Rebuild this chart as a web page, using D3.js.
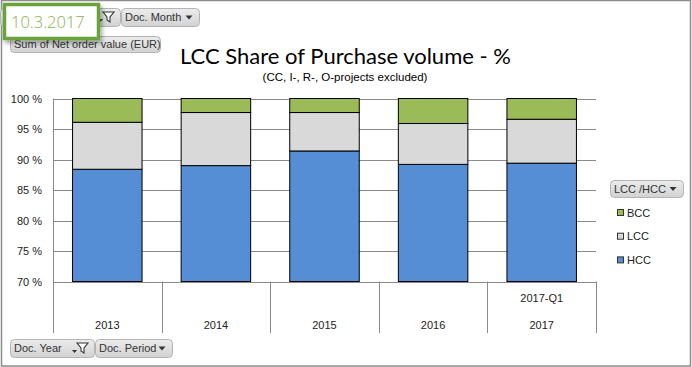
<!DOCTYPE html>
<html><head><meta charset="utf-8">
<script src="https://cdn.jsdelivr.net/npm/d3@7/dist/d3.min.js"></script>
<style>html,body{margin:0;padding:0;background:#fff;}svg{display:block;}</style>
</head><body>
<svg id="c" width="692" height="367"></svg>
<script>
const years = ["2013","2014","2015","2016","2017"];
const subLabels = ["","","","","2017-Q1"];
const seriesNames = ["HCC","LCC","BCC"];
const hcc = [88.4, 89.0, 91.4, 89.2, 89.4];
const lcc = [7.7, 8.7, 6.3, 6.7, 7.2];
const bcc = [3.9, 2.3, 2.3, 4.1, 3.4];
const colors = {HCC:"#558ed5", LCC:"#d9d9d9", BCC:"#9bbb59"};
const yTicks = [70,75,80,85,90,95,100];
const legendOrder = ["BCC","LCC","HCC"];

const svg = d3.select("#c");
const defs = svg.append("defs");
const g1 = defs.append("linearGradient").attr("id","btn").attr("x1",0).attr("y1",0).attr("x2",0).attr("y2",1);
g1.append("stop").attr("offset","0%").attr("stop-color","#ececec");
g1.append("stop").attr("offset","100%").attr("stop-color","#d2d2d2");
const sh = defs.append("filter").attr("id","shadow").attr("x","-20%").attr("y","-20%").attr("width","150%").attr("height","160%");
sh.append("feDropShadow").attr("dx",2).attr("dy",3).attr("stdDeviation",2).attr("flood-color","#000").attr("flood-opacity",0.35);

// outer border
svg.append("rect").attr("x",1.5).attr("y",0.5).attr("width",689).attr("height",365.5)
  .attr("fill","#fff").attr("stroke","#8c8c8c").attr("stroke-width",1.5);

const font = "Liberation Sans, Arial, sans-serif";
const pLeft = 53, pRight = 596, pTop = 98.5, pBottom = 281.5, axisBottom = 333;

const x = d3.scaleBand().domain(years).range([pLeft, pRight]).paddingInner(0.36).paddingOuter(0.18);
const y = d3.scaleLinear().domain([70,100]).range([pBottom, pTop]);

const data = years.map((yr,i)=>({year:yr, HCC:hcc[i], LCC:lcc[i], BCC:bcc[i]}));
const stack = d3.stack().keys(seriesNames)(data);

// gridlines
svg.append("g").selectAll("line").data(yTicks).join("line")
  .attr("x1",pLeft).attr("x2",pRight).attr("y1",d=>Math.round(y(d))+0.5).attr("y2",d=>Math.round(y(d))+0.5)
  .attr("stroke","#8a8a8a").attr("stroke-width",1);

// bars
svg.append("g").selectAll("g").data(stack).join("g")
  .attr("fill",d=>colors[d.key])
  .selectAll("rect").data(d=>d).join("rect")
  .attr("x",d=>x(d.data.year)).attr("width",x.bandwidth())
  .attr("y",d=>y(d[1])).attr("height",d=>y(Math.max(70,d[0]))-y(d[1]))
  .attr("stroke","#000").attr("stroke-width",1);

// y axis
const yAxis = d3.axisLeft(y).tickValues(yTicks).tickSize(0).tickPadding(11).tickFormat(d=>d+" %");
const ya = svg.append("g").attr("transform",`translate(${pLeft},0)`).call(yAxis);
ya.select(".domain").remove();
ya.selectAll("text").attr("font-family",font).attr("font-size",11).attr("fill","#222");
svg.append("line").attr("x1",pLeft+0.5).attr("x2",pLeft+0.5).attr("y1",pTop).attr("y2",axisBottom)
  .attr("stroke","#8a8a8a");

// x category dividers
const edges = d3.range(years.length+1).map(i=>pLeft + i*(pRight-pLeft)/years.length);
svg.append("g").selectAll("line").data(edges).join("line")
  .attr("x1",d=>Math.round(d)+0.5).attr("x2",d=>Math.round(d)+0.5).attr("y1",pBottom).attr("y2",axisBottom)
  .attr("stroke","#8a8a8a");
svg.append("g").selectAll("text").data(years).join("text")
  .attr("x",d=>x(d)+x.bandwidth()/2).attr("y",329).attr("text-anchor","middle")
  .attr("font-family",font).attr("font-size",11).attr("fill","#222").text(d=>d);
svg.append("g").selectAll("text").data(years.map((d,i)=>({d,s:subLabels[i]})).filter(o=>o.s)).join("text")
  .attr("x",o=>x(o.d)+x.bandwidth()/2).attr("y",302).attr("text-anchor","middle")
  .attr("font-family",font).attr("font-size",11).attr("fill","#222").text(o=>o.s);

// title
svg.append("text").attr("x",345.5).attr("y",64).attr("text-anchor","middle")
  .attr("font-family","Lato, Carlito, sans-serif").attr("font-size",22).attr("fill","#000")
  .text("LCC Share of Purchase volume - %");
svg.append("text").attr("x",345).attr("y",81).attr("text-anchor","middle")
  .attr("font-family",font).attr("font-size",11.5).attr("fill","#000")
  .text("(CC, I-, R-, O-projects excluded)");

// buttons
function button(x0,y0,w,h,label,opts){
  const g = svg.append("g");
  g.append("rect").attr("x",x0+0.5).attr("y",y0+0.5).attr("width",w).attr("height",h).attr("rx",4)
    .attr("fill","url(#btn)").attr("stroke","#b4b4b4");
  g.append("text").attr("x",x0+4).attr("y",y0+h/2+4).attr("font-family",font).attr("font-size",11)
    .attr("fill","#333").text(label);
  let ax = x0+w-10;
  if(opts && opts.filter){
    const fx = x0+w-12, fy=y0+4;
    g.append("path").attr("d",`M${fx-5},${fy} L${fx+6},${fy} L${fx+2},${fy+5} L${fx+2},${fy+10} L${fx-1},${fy+8} L${fx-1},${fy+5} Z`)
      .attr("fill","#fff").attr("stroke","#333").attr("stroke-width",1.1);
    g.append("path").attr("d",`M${fx-10},${fy+7} l5,0 l-2.5,3 z`).attr("fill","#333");
  } else if(!(opts && opts.plain)) {
    g.append("path").attr("d",`M${ax-3.5},${y0+h/2-1.5} l7,0 l-3.5,4 z`).attr("fill","#333");
  }
}
button(0,8,120,18,"",{filter:true});
button(121,8,78,18,"Doc. Month");
button(10,36,150,16,"Sum of Net order value (EUR)",{plain:true});
button(10,339,84,18,"Doc. Year",{filter:true});
button(95,339,77,18,"Doc. Period");
button(610,180,73,17,"LCC /HCC");

// legend
const lg = svg.append("g").selectAll("g").data(legendOrder).join("g")
  .attr("transform",(d,i)=>`translate(617,${209+i*23.7})`);
lg.append("rect").attr("x",0.5).attr("y",0.5).attr("width",6).attr("height",6)
  .attr("fill",d=>colors[d]).attr("stroke","#333");
lg.append("text").attr("x",10).attr("y",7.5).attr("font-family",font).attr("font-size",11).attr("fill","#222").text(d=>d);

// date tag
const tag = svg.append("g");
tag.append("rect").attr("x",4.5).attr("y",4.5).attr("width",94).attr("height",34)
  .attr("fill","#fff").attr("stroke","#6aa23a").attr("stroke-width",3.5).attr("filter","url(#shadow)");
tag.append("text").attr("x",11).attr("y",28).attr("font-family","Open Sans, sans-serif").attr("font-size",16.5)
  .attr("font-weight",300).attr("fill","#86b34c").text("10.3.2017");
</script>
</body></html>
